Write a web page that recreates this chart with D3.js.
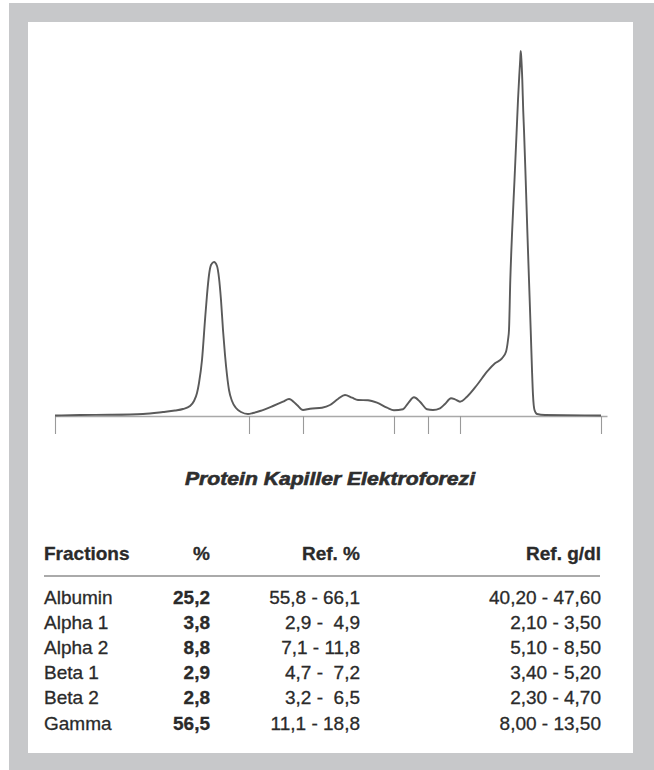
<!DOCTYPE html>
<html>
<head>
<meta charset="utf-8">
<script src="https://cdn.jsdelivr.net/npm/d3@7"></script>
<style>
  html, body { margin: 0; padding: 0; background: #ffffff; }
  svg { display: block; }
  text { font-family: "Liberation Sans", Arial, sans-serif; }
</style>
</head>
<body>
<svg id="chart" width="654" height="770"></svg>
<script>
// ---- Data ----
const mobility   = [0, 25, 55, 88, 108, 120, 128, 135, 139, 142, 144, 147, 150, 152, 154, 156, 159, 162, 164, 166, 168, 170, 172, 174, 177, 181, 186, 193, 198, 205, 218, 228, 234, 242, 248, 255, 267, 275, 283, 290, 297, 303, 313, 322, 332, 339, 348, 353, 359, 365, 372, 378, 385, 390, 396, 400, 405, 412, 422, 432, 440, 447, 451, 453, 454, 455.3, 457.2, 459.5, 461.7, 463, 464.3, 465.2, 465.7, 466.3, 467.3, 468.2, 469, 470.7, 472.3, 474, 475.7, 477, 478, 479.5, 482, 490, 546];
const absorbance = [0.5, 1, 1.2, 2, 4, 5.5, 7, 10, 15, 23, 33, 56, 96, 121, 141, 151, 154, 150, 138, 116, 86, 61, 41, 26, 15, 8, 4, 2, 3, 5, 10, 14.3, 17, 11, 6, 7.3, 8.3, 11, 17, 21, 18.3, 16, 15.7, 13.3, 8.3, 5.7, 6.7, 12.7, 18.7, 14.3, 6.7, 6, 7.7, 12, 17.7, 16.7, 14.3, 19.3, 31, 44.3, 52.7, 57.7, 64.3, 76, 86, 136, 186, 236, 286, 316, 341, 356, 365, 358, 336, 306, 286, 236, 186, 136, 86, 46, 21, 6, 2, 1, 0.5];
const boundaries = [0, 194, 248, 339, 373, 405, 546];

const chartTitle = "Protein Kapiller Elektroforezi";
const headers    = ["Fractions", "%", "Ref. %", "Ref. g/dl"];
const fractions  = ["Albumin", "Alpha 1", "Alpha 2", "Beta 1", "Beta 2", "Gamma"];
const percent    = ["25,2", "3,8", "8,8", "2,9", "2,8", "56,5"];
const refPercent = ["55,8 - 66,1", "2,9 -  4,9", "7,1 - 11,8", "4,7 -  7,2", "3,2 -  6,5", "11,1 - 18,8"];
const refGdl     = ["40,20 - 47,60", "2,10 - 3,50", "5,10 - 8,50", "3,40 - 5,20", "2,30 - 4,70", "8,00 - 13,50"];

// ---- Drawing ----
const svg = d3.select("#chart");

// frame
svg.append("rect").attr("x", 9).attr("y", 3).attr("width", 645).attr("height", 767).attr("fill", "#c7c8ca");
svg.append("rect").attr("x", 28).attr("y", 22).attr("width", 605).attr("height", 731).attr("fill", "#ffffff");

const x = d3.scaleLinear().domain([0, 552]).range([55, 607]);
const y = d3.scaleLinear().domain([0, 365]).range([416, 51]);

// baseline + fraction boundary ticks
const axis = d3.axisBottom(x).tickValues(boundaries).tickSize(18).tickSizeOuter(0).tickFormat("");
const ax = svg.append("g").attr("transform", `translate(0,${y(0)})`).call(axis);
ax.select(".domain").attr("stroke", "#a9a9a9").attr("stroke-width", 1.3);
ax.selectAll(".tick line").attr("stroke", "#9a9a9a").attr("stroke-width", 1.1);

// trace
const pts = mobility.map((m, i) => [m, absorbance[i]]);
const line = d3.line().x(d => x(d[0])).y(d => y(d[1])).curve(d3.curveMonotoneX);
svg.append("path").datum(pts)
  .attr("d", line)
  .attr("fill", "none")
  .attr("stroke", "#5a5a5a")
  .attr("stroke-width", 1.9)
  .attr("stroke-linejoin", "round");

// title
svg.append("text")
  .attr("x", 330).attr("y", 484.5)
  .attr("text-anchor", "middle")
  .attr("font-size", 18).attr("font-weight", "bold").attr("font-style", "italic")
  .attr("fill", "#2e2e2e")
  .attr("stroke", "#2e2e2e").attr("stroke-width", 0.6)
  .attr("textLength", 290).attr("lengthAdjust", "spacingAndGlyphs")
  .text(chartTitle);

// table
const colX = [44, 210, 360, 601];
const colAnchor = ["start", "end", "end", "end"];
const textColor = "#2a2a2a";
const fs = 19;

const header = svg.append("g");
headers.forEach((h, i) => {
  header.append("text")
    .attr("x", colX[i]).attr("y", 559.5)
    .attr("text-anchor", colAnchor[i])
    .attr("font-size", fs).attr("font-weight", "bold")
    .attr("fill", textColor)
    .attr("stroke", textColor).attr("stroke-width", 0.3)
    .text(h);
});
svg.append("line").attr("x1", 44).attr("x2", 600).attr("y1", 576).attr("y2", 576)
  .attr("stroke", "#8e8e8e").attr("stroke-width", 1.6);

const rowY = d3.scaleBand().domain(fractions).range([584.2, 735.4]);
const rows = svg.append("g").selectAll("g").data(fractions).join("g")
  .attr("transform", f => `translate(0,${rowY(f) + rowY.bandwidth() / 2 + 6.8})`);

const cols = [fractions, percent, refPercent, refGdl];
cols.forEach((arr, ci) => {
  rows.append("text")
    .attr("x", colX[ci])
    .attr("text-anchor", colAnchor[ci])
    .attr("font-size", fs)
    .attr("font-weight", ci === 1 ? "bold" : "normal")
    .attr("fill", textColor)
    .attr("stroke", textColor).attr("stroke-width", 0.3)
    .attr("xml:space", "preserve")
    .style("white-space", "pre")
    .text((f, i) => arr[i]);
});
</script>
</body>
</html>
